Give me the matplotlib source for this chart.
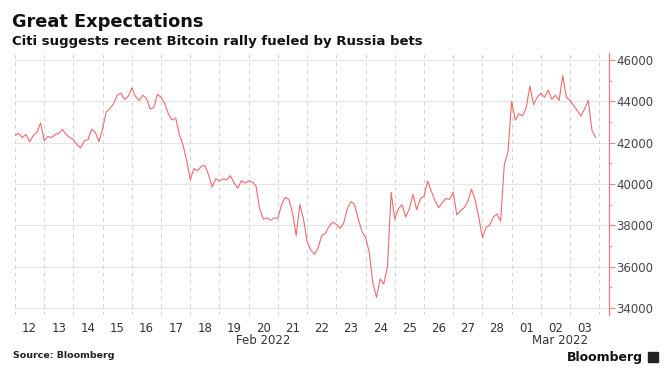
import matplotlib
matplotlib.use('Agg')
import matplotlib.pyplot as plt
import matplotlib.transforms as mtransforms
import numpy as np
import pandas as pd

# Bitcoin price at 3-hour steps (8 per day), Feb 12 .. Mar 3 2022
FEB12 = [42350, 42450, 42250, 42400, 42050, 42350, 42500, 42950]
FEB13 = [42100, 42300, 42250, 42400, 42450, 42650, 42400, 42250]
FEB14 = [42150, 41900, 41750, 42100, 42150, 42650, 42500, 42050]
FEB15 = [42700, 43500, 43650, 43900, 44300, 44400, 44100, 44250]
FEB16 = [44650, 44250, 44050, 44300, 44150, 43650, 43700, 44350]
FEB17 = [44200, 43900, 43400, 43100, 43200, 42400, 41900, 41150]
FEB18 = [40200, 40750, 40650, 40850, 40900, 40450, 39850, 40250]
FEB19 = [40150, 40250, 40200, 40400, 40050, 39800, 40150, 40050]
FEB20 = [40150, 40100, 39900, 38800, 38300, 38350, 38250, 38350]
FEB21 = [38350, 39000, 39350, 39250, 38600, 37500, 39000, 38300]
FEB22 = [37200, 36800, 36600, 36900, 37500, 37600, 37950, 38150]
FEB23 = [38050, 37850, 38100, 38800, 39150, 39000, 38300, 37700]
FEB24 = [37400, 36700, 35200, 34500, 35400, 35150, 36000, 39600]
FEB25 = [38300, 38800, 39000, 38400, 38800, 39500, 38750, 39300]
FEB26 = [39400, 40150, 39650, 39200, 38850, 39100, 39300, 39250]
FEB27 = [39600, 38500, 38700, 38850, 39150, 39750, 39250, 38400]
FEB28 = [37400, 37900, 38000, 38400, 38550, 38200, 40950, 41550]
MAR01 = [44000, 43100, 43400, 43300, 43700, 44750, 43850, 44200]
MAR02 = [44400, 44200, 44550, 44100, 44300, 44050, 45250, 44200]
MAR03 = [44050, 43800, 43550, 43300, 43650, 44050, 42600, 42250]

PRICES = (FEB12 + FEB13 + FEB14 + FEB15 + FEB16 + FEB17 + FEB18 + FEB19 + FEB20 + FEB21
          + FEB22 + FEB23 + FEB24 + FEB25 + FEB26 + FEB27 + FEB28 + MAR01 + MAR02 + MAR03)
TIMES = pd.date_range('2022-02-12', periods=len(PRICES), freq='3h')

DAY_LABELS = ['12', '13', '14', '15', '16', '17', '18', '19', '20', '21',
              '22', '23', '24', '25', '26', '27', '28', '01', '02', '03']
MONTHS = [('Feb 2022', '2022-02-01', '2022-03-01'), ('Mar 2022', '2022-03-01', '2022-04-01')]
Y_TICKS = [34000, 36000, 38000, 40000, 42000, 44000, 46000]

LINE = '#ee5a5f'
AXIS = '#e8848c'

fig = plt.figure(figsize=(6.69, 3.68), dpi=100)
ax = fig.add_axes([15 / 669, 1 - 315 / 368, 594 / 669, 262 / 368])

x0 = pd.Timestamp('2022-02-12')
x1 = pd.Timestamp('2022-03-04 08:00')
ax.set_xlim(x0, x1)
ax.set_ylim(33650, 46350)

ax.plot(TIMES, PRICES, color=LINE, linewidth=0.8, alpha=0.9, zorder=3)

# gridlines: solid horizontals at ticks, dashed verticals at day boundaries
for v in Y_TICKS:
    ax.axhline(v, color='#e6e6e6', linewidth=0.8, zorder=1)
days = pd.date_range('2022-02-12', periods=len(DAY_LABELS) + 1, freq='D')
for d in days:
    ax.axvline(d, color='#d0d0d0', linewidth=0.7, linestyle=(0, (4, 4)), zorder=1)

# x tick labels centred on each day
mids = days[:-1] + pd.Timedelta(hours=12)
ax.set_xticks(mids)
ax.set_xticklabels(DAY_LABELS)
ax.tick_params(axis='x', length=0, labelsize=8.5, labelcolor='#333', pad=5)

trans = mtransforms.blended_transform_factory(ax.transData, ax.transAxes)
for name, a, b in MONTHS:
    lo = max(pd.Timestamp(a), x0)
    hi = min(pd.Timestamp(b), x1)
    ax.text(lo + (hi - lo) / 2, -0.072, name, transform=trans, ha='center', va='top',
            fontsize=8.5, color='#333')

# right axis
ax.yaxis.tick_right()
ax.set_yticks(Y_TICKS)
ax.set_yticklabels([str(v) for v in Y_TICKS])
ax.set_yticks(np.arange(35000, 46000, 2000), minor=True)
ax.tick_params(axis='y', which='major', direction='out', length=4, color=AXIS,
               labelsize=8.5, labelcolor='#444', pad=1)
ax.tick_params(axis='y', which='minor', direction='out', length=2, color=AXIS)
for side in ('top', 'left', 'bottom'):
    ax.spines[side].set_visible(False)
ax.spines['right'].set_color(AXIS)
ax.spines['right'].set_linewidth(1.0)

fig.text(12 / 669, 1 - 22 / 368, 'Great Expectations', fontsize=12.8, fontweight='bold',
         color='#111', va='center')
fig.text(12 / 669, 1 - 42 / 368, 'Citi suggests recent Bitcoin rally fueled by Russia bets',
         fontsize=9.5, fontweight='bold', color='#111', va='center')
fig.text(13 / 669, 1 - 356 / 368, 'Source: Bloomberg', fontsize=6.8, fontweight='bold',
         color='#222', va='center')
fig.text(643 / 669, 1 - 357 / 368, 'Bloomberg', fontsize=9, fontweight='bold',
         color='#111', va='center', ha='right')
logo = plt.Rectangle((648 / 669, 1 - 362 / 368), 10 / 669, 10 / 368,
                     transform=fig.transFigure, color='#222')
fig.patches.append(logo)

fig.savefig('out.png', dpi=100, facecolor='white')
